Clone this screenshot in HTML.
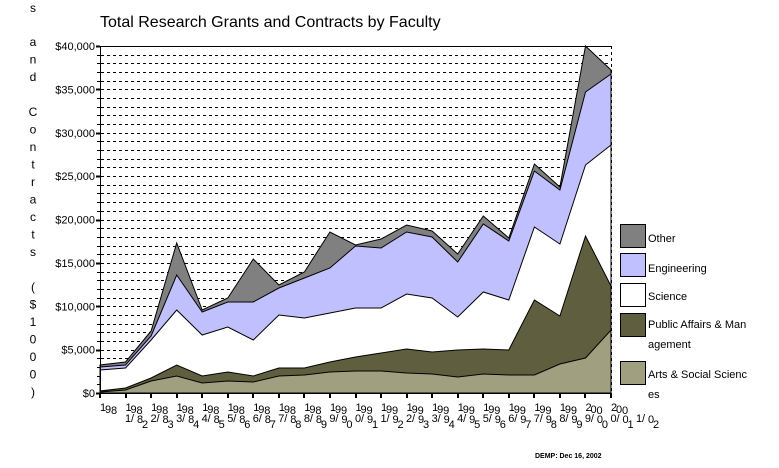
<!DOCTYPE html>
<html><head><meta charset="utf-8"><style>
html,body{margin:0;padding:0;background:#fff;width:779px;height:468px;overflow:hidden}
svg{display:block;font-family:"Liberation Sans",Arial,sans-serif}
</style></head><body>
<svg width="779" height="468" viewBox="0 0 779 468" xmlns="http://www.w3.org/2000/svg">
<text x="100" y="27" font-size="16">Total Research Grants and Contracts by Faculty</text>
<g id="grid" stroke="#000" stroke-width="1" stroke-dasharray="3,3"></g>
<g id="areas" stroke="#000" stroke-width="1"></g>
<line x1="100" y1="46.5" x2="611" y2="46.5" stroke="#000"/>
<line x1="611.5" y1="46" x2="611.5" y2="393" stroke="#000" stroke-dasharray="3,3"/>
<line x1="100.5" y1="46" x2="100.5" y2="394" stroke="#000"/>
<line x1="100" y1="393.5" x2="612" y2="393.5" stroke="#000"/>
<g id="ticks" stroke="#000"></g>
<g id="ylab" font-size="11" text-anchor="end"></g>
<g id="ytitle" font-size="12" text-anchor="middle"></g>
<g id="xlab" font-size="11"></g>
<g font-size="11">
<rect x="620.5" y="224.5" width="25" height="23" fill="#808080" stroke="#000"/>
<text x="648" y="242">Other</text>
<rect x="620.5" y="253.5" width="25" height="23" fill="#c0c0ff" stroke="#000"/>
<text x="648" y="272">Engineering</text>
<rect x="620.5" y="283.5" width="25" height="23" fill="#fff" stroke="#000"/>
<text x="648" y="300">Science</text>
<rect x="620.5" y="313.5" width="25" height="23" fill="#5f5f40" stroke="#000"/>
<text x="648" y="328">Public Affairs &amp; Man</text>
<text x="648" y="348">agement</text>
<rect x="620.5" y="361.5" width="25" height="23" fill="#a0a080" stroke="#000"/>
<text x="648" y="378">Arts &amp; Social Scienc</text>
<text x="648" y="398">es</text>
</g>
<text x="535" y="458" font-size="7" font-weight="bold">DEMP: Dec 16, 2002</text>
</svg>
<script>
(function(){
const NS="http://www.w3.org/2000/svg";
function el(p,t,a,txt){const e=document.createElementNS(NS,t);for(const k in a)e.setAttribute(k,a[k]);if(txt!==undefined)e.textContent=txt;document.getElementById(p).appendChild(e);return e;}
const T=46,B=393,ppd=(B-T)/40;
for(let k=1;k<40;k++){const y=Math.round(T+k*ppd)+0.5;el("grid","line",{x1:101,y1:y,x2:611,y2:y});}
for(let k=0;k<=40;k++){const y=Math.round(T+k*ppd)+0.5;el("ticks","line",{x1:k%5==0?96:97,y1:y,x2:100,y2:y,"stroke-width":k%5==0?2:1});}
for(let k=0;k<=8;k++){const y=B-k*5*ppd;el("ylab","text",{x:95,y:y+4},"$"+(k==0?"0":(k*5)+",000"));}
const N=21,xs=[];for(let i=0;i<N;i++)xs.push(100+i*511/(N-1));
const arts=[392,390,381,376,383,381,382,376,375,372,371,371,373,374,377,374,375,375,364,358,330];
const pub=[391,388,378,365,376,372,376,368,368,362,357,353,349,352,350,349,350,300,316,236,286];
const sci=[370,368,340,310,335,327,340,315,318,313,308,308,294,298,317,292,300,227,244,165,145];
const eng=[367,365,336,275,312,302,302,288,278,268,246,248,232,237,262,224,241,171,190,92,74];
const oth=[365,362,331,243,310,298,259,285,272,232,245,239,225,231,254,216,238,164,187,46,70];
function area(arr,fill){let d="M"+xs[0]+","+B;arr.forEach((y,i)=>d+=" L"+xs[i].toFixed(1)+","+y);d+=" L"+xs[N-1]+","+B+"Z";el("areas","path",{d:d,fill:fill});}
area(oth,"#808080");area(eng,"#c0c0ff");area(sci,"#ffffff");area(pub,"#5f5f40");area(arts,"#a0a080");
xs.forEach(x=>el("ticks","line",{x1:Math.round(x),y1:394,x2:Math.round(x),y2:398,"stroke-width":2}));
const dx=[0,5,11,25,31,37,42],dy=[0,2,3,11,11,12,17];
for(let i=0;i<N;i++){const a=1981+i,s=a+"/"+String((a+1)%100).padStart(2,"0");
for(let c=0;c<s.length;c++)el("xlab","text",{x:xs[i]+dx[c],y:411+dy[c]},s[c]);}
const tt="and Contracts ($1000)";el("ytitle","text",{x:33,y:12},"s");
for(let c=0;c<tt.length;c++)el("ytitle","text",{x:33,y:46+c*17.5},tt[c]);
})();
</script>
</body></html>
